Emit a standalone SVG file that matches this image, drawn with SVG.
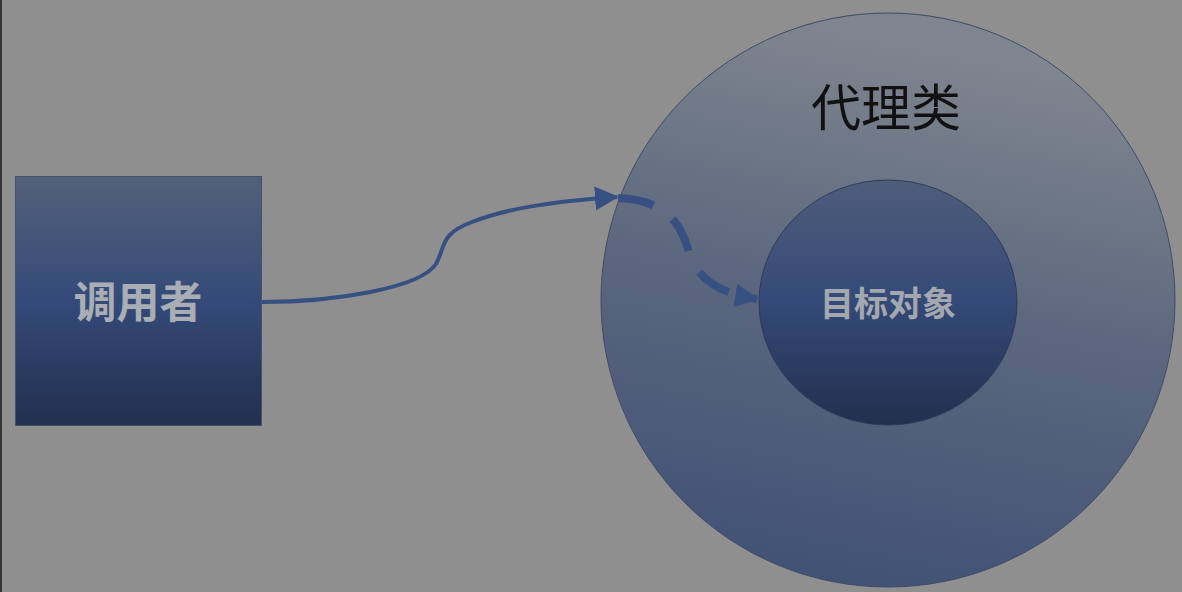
<svg xmlns="http://www.w3.org/2000/svg" width="1182" height="592" viewBox="0 0 1182 592">
<defs>
<linearGradient id="gRect" x1="0" y1="0" x2="0" y2="1">
<stop offset="0" stop-color="#536079"/>
<stop offset="0.5" stop-color="#344a79"/>
<stop offset="1" stop-color="#222f4e"/>
</linearGradient>
<linearGradient id="gOuter" x1="0.3" y1="0" x2="0.1" y2="1">
<stop offset="0" stop-color="#80868f"/>
<stop offset="0.45" stop-color="#5b677e"/>
<stop offset="1" stop-color="#3e4f74"/>
</linearGradient>
<linearGradient id="gInner" x1="0" y1="0" x2="0" y2="1">
<stop offset="0" stop-color="#4f5d7a"/>
<stop offset="0.5" stop-color="#344978"/>
<stop offset="1" stop-color="#232f4d"/>
</linearGradient>
<marker id="arrow" markerUnits="userSpaceOnUse" markerWidth="26" markerHeight="26" viewBox="0 0 26 26" refX="22" refY="13" orient="auto">
<path d="M0,1 L24,13 L0,25 Z" fill="#365082"/>
</marker>
</defs>
<style>
.lbl{font-family:"Noto Sans CJK SC","Noto Sans",sans-serif;text-anchor:middle}
.conn{fill:none;stroke:#365082;stroke-linecap:butt}
</style>
<rect width="1182" height="592" fill="#8f8f8f"/>
<rect x="0" y="0" width="2" height="592" fill="#333"/>
<g id="caller">
<rect x="15.5" y="176.5" width="246" height="249" fill="url(#gRect)" stroke="#44536d" stroke-width="1"/>
<text class="lbl" x="138" y="318" font-size="43" font-weight="bold" fill="#a9adb4">调用者</text>
</g>
<g id="proxy">
<circle cx="888" cy="300" r="287" fill="url(#gOuter)" stroke="#3e4c68" stroke-width="1"/>
<text class="lbl" x="886" y="126" font-size="50" font-weight="normal" fill="#111">代理类</text>
</g>
<g id="target">
<ellipse cx="888" cy="302.5" rx="129" ry="122.5" fill="url(#gInner)" stroke="#2f3c58" stroke-width="1"/>
<text class="lbl" x="888" y="316" font-size="34" font-weight="bold" fill="#a3a7ae">目标对象</text>
</g>
<g id="connectors">
<path class="conn" stroke-width="4" d="M262,302 C335,302 420,288 436,264 C446,245 440,234 472,222 C510,207 560,201 617,197" marker-end="url(#arrow)"/>
<path class="conn" stroke-width="8" stroke-dasharray="36,24" d="M618,198 C670,200 682,228 689,252 C697,280 720,293 757,299" marker-end="url(#arrow)"/>
</g>
</svg>
